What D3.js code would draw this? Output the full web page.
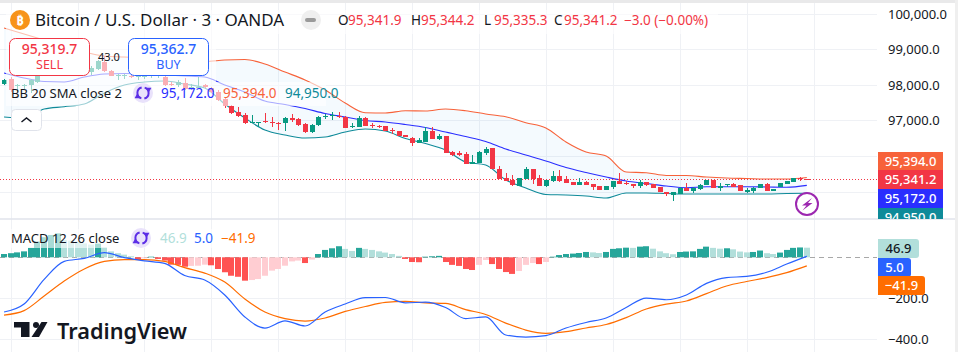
<!DOCTYPE html>
<html>
<head>
<meta charset="utf-8">
<script src="https://cdn.jsdelivr.net/npm/d3@7"></script>
<style>
  html, body { margin: 0; padding: 0; background: #fff; overflow: hidden; }
  svg { display: block; font-family: "Noto Sans", sans-serif; }
  .axis path { display: none; }
  .axis text { fill: #131722; font-size: 13px; font-family: "Noto Sans", sans-serif; }
</style>
</head>
<body>
<div id="chart"></div>
<script>
// BTC/USD 3m candles, first bar sits one slot left of the first time grid line
var opens = [
  98029, 98170, 97972, 97972, 98001, 98085, 98367, 98536, 98423, 98479,
  98648, 98592, 98705, 98367, 98451, 98648, 98395, 98254, 98254, 98254,
  98226, 98226, 98254, 98254, 98226, 98029, 98001, 98057, 97916, 97916,
  98001, 97916, 97803, 97606, 97409, 97240, 97155, 96930, 96930, 96986,
  96958, 96930, 96930, 97071, 97043, 96902, 96677, 96874, 97099, 97127,
  97127, 97099, 96817, 96817, 97071, 96874, 96846, 96846, 96733, 96705,
  96592, 96508, 96367, 96395, 96705, 96479, 96564, 96113, 96085, 96057,
  95775, 95803, 96085, 96226, 95634, 95381, 95324, 95155, 95353, 95634,
  95381, 95155, 95296, 95437, 95353, 95268, 95184, 95268, 95212, 95155,
  95043, 95127, 95296, 95240, 95212, 95155, 95268, 95212, 95127, 94986,
  94902, 94930, 95099, 95015, 95071, 95184, 95324, 95099, 95184, 95212,
  95184, 94986, 95015, 95099, 95212, 95015, 95127, 95212, 95268, 95381,
  95341.9
];
var highs = [
  98170, 98226, 98029, 98029, 98170, 98282, 98536, 98592, 98592, 98705,
  98705, 98761, 98761, 98536, 98705, 98817, 98423, 98310, 98310, 98339,
  98282, 98282, 98339, 98367, 98282, 98085, 98141, 98198, 98029, 98226,
  98029, 97944, 97860, 97634, 97437, 97381, 97212, 97155, 96958, 97212,
  97099, 96958, 97099, 97184, 97071, 96930, 96902, 97127, 97184, 97240,
  97240, 97127, 96930, 97127, 97099, 96930, 96874, 96846, 96789, 96705,
  96592, 96536, 96508, 96817, 96817, 96620, 96564, 96141, 96141, 96113,
  96029, 96141, 96254, 96226, 95719, 95522, 95465, 95381, 95691, 95634,
  95465, 95324, 95578, 95606, 95437, 95268, 95381, 95296, 95212, 95155,
  95155, 95296, 95522, 95296, 95212, 95324, 95268, 95212, 95127, 94986,
  94986, 95127, 95240, 95127, 95212, 95324, 95324, 95240, 95212, 95240,
  95184, 95099, 95127, 95212, 95240, 95071, 95240, 95296, 95381, 95410,
  95344.2
];
var lows = [
  98001, 97803, 97803, 97888, 97775, 98057, 98310, 98339, 98367, 98395,
  98451, 98479, 98423, 98282, 98423, 98367, 98254, 98141, 98170, 98198,
  98141, 98170, 98198, 98198, 97972, 97972, 97944, 97860, 97860, 97888,
  97916, 97775, 97550, 97353, 97184, 97099, 96902, 96930, 96817, 96930,
  96817, 96733, 96705, 96958, 96846, 96648, 96648, 96846, 97043, 97015,
  97071, 96789, 96789, 96817, 96846, 96789, 96789, 96705, 96620, 96564,
  96536, 96282, 96367, 96395, 96479, 96451, 96085, 96001, 96001, 95775,
  95775, 95803, 96029, 95634, 95353, 95296, 95155, 95155, 95353, 95212,
  95155, 95127, 95268, 95268, 95240, 95184, 95184, 95184, 95043, 95043,
  95043, 95071, 95212, 95184, 95099, 95099, 95155, 95099, 94986, 94874,
  94733, 94930, 95015, 94958, 95043, 95184, 95099, 95015, 95127, 95127,
  95015, 94958, 94958, 95099, 95015, 95015, 95127, 95212, 95268, 95296,
  95335.3
];
var closes = [
  98141, 97860, 98001, 98001, 98141, 98254, 98479, 98423, 98536, 98648,
  98536, 98705, 98536, 98479, 98677, 98395, 98254, 98282, 98282, 98226,
  98254, 98254, 98282, 98282, 98001, 98001, 98085, 97888, 97944, 97944,
  97944, 97803, 97578, 97409, 97212, 97127, 96930, 96958, 96958, 96958,
  96930, 96902, 97071, 97015, 96874, 96677, 96874, 97099, 97127, 97155,
  97099, 96789, 96846, 97071, 96846, 96846, 96817, 96705, 96705, 96564,
  96536, 96367, 96451, 96705, 96479, 96564, 96085, 96029, 96029, 95775,
  95831, 96113, 96198, 95634, 95353, 95296, 95184, 95381, 95634, 95353,
  95155, 95324, 95437, 95296, 95240, 95184, 95268, 95184, 95127, 95043,
  95155, 95296, 95212, 95212, 95155, 95268, 95184, 95099, 94986, 94930,
  94986, 95099, 95015, 95099, 95184, 95324, 95099, 95155, 95212, 95127,
  95015, 95043, 95099, 95212, 95015, 95071, 95240, 95296, 95381, 95340,
  95341.2
];

// Bollinger and MACD lines
var bandBars = d3.range(-1, 120, 3);
var bbUpper = [
  99606, 99437, 99268, 99099, 98930, 98817, 98789, 98761, 98733, 98704,
  98662, 98704, 98718, 98592, 98366, 98141, 97859, 97493, 97220, 97211,
  97276, 97268, 97324, 97276, 97183, 97107, 96938, 96789, 96394, 96113,
  96000, 95549, 95530, 95451, 95451, 95408, 95380, 95366, 95352, 95352,
  95394
];
var bbBasis = [
  98338, 98197, 98099, 98085, 98225, 98310, 98324, 98310, 98282, 98254,
  98225, 98000, 97803, 97549, 97451, 97338, 97197, 97099, 97000, 96958,
  96887, 96803, 96676, 96549, 96409, 96197, 96028, 95859, 95676, 95535,
  95408, 95296, 95225, 95155, 95107, 95135, 95135, 95135, 95127, 95118,
  95172
];
var bbLower = [
  97099, 97070, 97324, 97389, 97465, 97775, 98000, 98085, 98113, 98028,
  97916, 97465, 97070, 96732, 96592, 96507, 96535, 96676, 96761, 96704,
  96493, 96352, 96169, 95831, 95747, 95324, 95099, 94915, 94901, 94873,
  94817, 94958, 94958, 94944, 94930, 94930, 94930, 94930, 94930, 94944,
  94950
];
var macdLine = [
  -267, -228, -108, -20, -5, 23, -2, -17, -30, -89,
  -111, -184, -291, -345, -310, -335, -267, -228, -197, -196,
  -222, -219, -245, -299, -291, -379, -389, -382, -345, -318,
  -296, -245, -199, -207, -184, -127, -99, -93, -73, -33,
  5.0
];
var signalLine = [
  -282, -260, -189, -116, -57, -20, -11, -11, -20, -50,
  -77, -121, -203, -267, -299, -311, -296, -264, -240, -220,
  -215, -222, -225, -255, -279, -321, -355, -371, -363, -345,
  -328, -294, -252, -228, -213, -177, -140, -118, -99, -75,
  -41.9
];
var histogram = [
  16, 20, 24, 29, 46, 77, 98, 109, 117, 85,
  81, 77, 68, 62, 67, 49, 29, 20, 13, 5,
  -13, -5, 3, -8, -16, -36, -37, -46, -42, -41,
  -36, -39, -57, -73, -90, -95, -114, -111, -106, -90,
  -65, -57, -41, -20, -16, -28, -11, 16, 36, 44,
  54, 41, 31, 46, 41, 36, 29, 23, 16, 7,
  -8, -23, -24, 3, 5, 7, -23, -37, -42, -57,
  -62, -37, -13, -33, -57, -72, -81, -67, -37, -28,
  -33, -23, 3, 11, 16, 18, 21, 26, 24, 21,
  26, 41, 44, 47, 46, 52, 54, 42, 29, 20,
  15, 26, 28, 29, 41, 52, 46, 42, 44, 39,
  28, 24, 26, 33, 20, 16, 23, 36, 46, 48,
  46.9
];

var priceTicks = [100000, 99000, 98000, 97000, 96000, 95000];
var macdTicks = [-200, -400];
var timeGridBars = d3.range(0, 121, 10);

var width = 958, height = 352;
var paneRight = 877, axisRight = 955, paneBottom = 219;
var green = "#089981", red = "#f23645", gridColor = "#eff1f5";

var svg = d3.select("#chart").append("svg").attr("width", width).attr("height", height);

var x = d3.scaleLinear().domain([0, 120]).range([10.7, 813.5]);
var yPrice = d3.scaleLinear().domain([95000, 100000]).range([191.5, 14]);
var yMacd = d3.scaleLinear().domain([0, -400]).range([257.3, 339.3]);

function crisp(v) { return Math.round(v) + 0.5; }

// Page edges
svg.append("rect").attr("width", width).attr("height", 3).attr("fill", "#e9e9ea");
svg.append("rect").attr("x", axisRight).attr("width", width - axisRight).attr("height", height).attr("fill", "#efefef");

// Grid
svg.append("g").selectAll("line").data(timeGridBars).join("line")
  .attr("x1", function (d) { return crisp(x(d)); })
  .attr("x2", function (d) { return crisp(x(d)); })
  .attr("y1", 3).attr("y2", height)
  .attr("stroke", gridColor);
svg.append("g").selectAll("line").data(priceTicks).join("line")
  .attr("x1", 0).attr("x2", paneRight)
  .attr("y1", function (d) { return crisp(yPrice(d)); })
  .attr("y2", function (d) { return crisp(yPrice(d)); })
  .attr("stroke", gridColor);
svg.append("g").selectAll("line").data(macdTicks).join("line")
  .attr("x1", 0).attr("x2", paneRight)
  .attr("y1", function (d) { return crisp(yMacd(d)); })
  .attr("y2", function (d) { return crisp(yMacd(d)); })
  .attr("stroke", gridColor);
svg.append("line").attr("x1", 0).attr("x2", axisRight).attr("y1", paneBottom).attr("y2", paneBottom)
  .attr("stroke", "#e0e3eb").attr("stroke-width", 1.5);

// Bollinger fill and lines
var bandArea = d3.area()
  .x(function (d) { return x(d); })
  .y0(function (d, i) { return yPrice(bbLower[i]); })
  .y1(function (d, i) { return yPrice(bbUpper[i]); })
  .curve(d3.curveMonotoneX);
svg.append("path").datum(bandBars).attr("d", bandArea).attr("fill", "#2196f3").attr("fill-opacity", 0.05);

function bandLine(values, scale) {
  return d3.line()
    .x(function (d) { return x(d); })
    .y(function (d, i) { return scale(values[i]); })
    .curve(d3.curveMonotoneX);
}
[[bbUpper, "#f7623a"], [bbBasis, "#2a2eff"], [bbLower, "#0e8a99"]].forEach(function (s) {
  svg.append("path").datum(bandBars).attr("d", bandLine(s[0], yPrice))
    .attr("fill", "none").attr("stroke", s[1]).attr("stroke-width", 1.1);
});

// Last price line
svg.append("line").attr("x1", 0).attr("x2", paneRight)
  .attr("y1", crisp(yPrice(95341.2))).attr("y2", crisp(yPrice(95341.2)))
  .attr("stroke", red).attr("stroke-dasharray", "1 2");

// Candles
var candles = svg.append("g").selectAll("g").data(opens).join("g")
  .attr("fill", function (d, i) { return closes[i] >= opens[i] ? green : red; })
  .attr("stroke", function (d, i) { return closes[i] >= opens[i] ? green : red; });
candles.append("line")
  .attr("x1", function (d, i) { return crisp(x(i - 1)); })
  .attr("x2", function (d, i) { return crisp(x(i - 1)); })
  .attr("y1", function (d, i) { return Math.round(yPrice(highs[i])); })
  .attr("y2", function (d, i) { return Math.round(yPrice(lows[i])); });
candles.append("rect")
  .attr("stroke", "none")
  .attr("x", function (d, i) { return Math.round(x(i - 1)) - 2; })
  .attr("width", 5)
  .attr("y", function (d, i) { return Math.round(yPrice(Math.max(opens[i], closes[i]))); })
  .attr("height", function (d, i) {
    return Math.max(1, Math.round(yPrice(Math.min(opens[i], closes[i]))) - Math.round(yPrice(Math.max(opens[i], closes[i]))));
  });

// MACD histogram, colour follows sign and direction of the bar
svg.append("line").attr("x1", 0).attr("x2", paneRight).attr("y1", 257.5).attr("y2", 257.5)
  .attr("stroke", "#a8a8a8").attr("stroke-dasharray", "5 4");
svg.append("g").selectAll("rect").data(histogram).join("rect")
  .attr("x", function (d, i) { return Math.round(x(i - 1)) - 3; })
  .attr("width", 6)
  .attr("y", function (d) { return Math.min(yMacd(d), yMacd(0)); })
  .attr("height", function (d) { return Math.abs(yMacd(d) - yMacd(0)); })
  .attr("fill", function (d, i) {
    var rising = i === 0 || d > histogram[i - 1];
    if (d >= 0) return rising ? "#26a69a" : "#b2dfdb";
    return rising ? "#ffcdd2" : "#ff5252";
  });

[[signalLine, "#ff6d00"], [macdLine, "#2962ff"]].forEach(function (s) {
  svg.append("path").datum(bandBars).attr("d", bandLine(s[0], yMacd))
    .attr("fill", "none").attr("stroke", s[1]).attr("stroke-width", 1.2);
});

// Legend backdrops soften whatever runs underneath the text
[[6, 10, 712, 24], [6, 34, 210, 48], [6, 82, 320, 24], [6, 229, 258, 19]].forEach(function (r) {
  svg.append("rect").attr("x", r[0]).attr("y", r[1]).attr("width", r[2]).attr("height", r[3])
    .attr("fill", "#fff").attr("fill-opacity", 0.6);
});

function label(txt, px, py, size, color, anchor, weight) {
  return svg.append("text").attr("x", px).attr("y", py).attr("dy", "0.35em")
    .attr("font-size", size).attr("fill", color)
    .attr("text-anchor", anchor || "start").attr("font-weight", weight || 400).text(txt);
}

// Title row
svg.append("circle").attr("cx", 20).attr("cy", 20).attr("r", 10).attr("fill", "#f7931a");
label("₿", 20, 20, 13, "#fff", "middle", 700);
label("Bitcoin / U.S. Dollar · 3 · OANDA", 35, 20, 17, "#131722");
svg.append("circle").attr("cx", 311).attr("cy", 20).attr("r", 10).attr("fill", "#efefef");
svg.append("rect").attr("x", 305).attr("y", 18).attr("width", 11).attr("height", 4).attr("rx", 2).attr("fill", "#9a9a9a");
[["O", 338, "95,341.9", 348], ["H", 411, "95,344.2", 421], ["L", 484, "95,335.3", 494], ["C", 554, "95,341.2", 564]].forEach(function (o) {
  label(o[0], o[1], 20, 13.5, "#131722");
  label(o[2], o[3], 20, 13.5, red);
});
label("−3.0 (−0.00%)", 624, 20, 13.5, red);

// Sell and buy boxes
[[9.5, red, "95,319.7", "SELL"], [128.5, "#2962ff", "95,362.7", "BUY"]].forEach(function (b) {
  svg.append("rect").attr("x", b[0]).attr("y", 38.5).attr("width", 80).attr("height", 37).attr("rx", 6)
    .attr("fill", "#fff").attr("stroke", b[1]);
  label(b[2], b[0] + 40, 49, 14, b[1], "middle", 500);
  label(b[3], b[0] + 40, 64.5, 12.5, b[1], "middle");
});
label("43.0", 109, 57, 11, "#131722", "middle");

// Round purple sync button next to the indicator names
function syncIcon(cx, cy) {
  var g = svg.append("g").attr("transform", "translate(" + cx + "," + cy + ")");
  g.append("circle").attr("r", 10).attr("fill", "#e9e2fb");
  var arc = d3.arc().innerRadius(4.6).outerRadius(6.6);
  g.append("path").attr("d", arc({ startAngle: 0.3, endAngle: 2.9 })).attr("fill", "#5c2ee6");
  g.append("path").attr("d", arc({ startAngle: 3.44, endAngle: 6.04 })).attr("fill", "#5c2ee6");
  g.append("path").attr("d", d3.symbol().type(d3.symbolTriangle).size(14)()).attr("fill", "#5c2ee6")
    .attr("transform", "translate(5.6,-3.6) rotate(180)");
  g.append("path").attr("d", d3.symbol().type(d3.symbolTriangle).size(14)()).attr("fill", "#5c2ee6")
    .attr("transform", "translate(-5.6,3.6)");
}

label("BB 20 SMA close 2", 11, 93, 13, "#131722");
syncIcon(143, 93);
label("95,172.0", 161, 93, 13.5, "#2a2eff");
label("95,394.0", 223, 93, 13.5, "#f7623a");
label("94,950.0", 285, 93, 13.5, "#0e8a99");

svg.append("rect").attr("x", 11.5).attr("y", 109.5).attr("width", 30).attr("height", 21).attr("rx", 4)
  .attr("fill", "#fff").attr("stroke", "#e0e3eb");
svg.append("path").attr("d", d3.line()([[21.5, 122], [26.5, 118], [31.5, 122]]))
  .attr("fill", "none").attr("stroke", "#131722").attr("stroke-width", 1.5);

label("MACD 12 26 close", 11, 238, 13, "#131722");
syncIcon(141, 238);
label("46.9", 160, 238, 13.5, "#b2dfdb");
label("5.0", 194, 238, 13.5, "#2962ff");
label("−41.9", 221, 238, 13.5, "#ff6d00");

// Replay marker
svg.append("circle").attr("cx", 807).attr("cy", 204).attr("r", 11).attr("fill", "#fff")
  .attr("stroke", "#9c27b0").attr("stroke-width", 2);
svg.append("path").attr("d", "M812,198L802,205.5L806.5,205.5L802.5,210.5L812.5,203L808,203Z").attr("fill", "#9c27b0");

// Price scales
svg.append("g").attr("class", "axis").attr("transform", "translate(" + paneRight + ",0)")
  .call(d3.axisRight(yPrice).tickValues(priceTicks).tickFormat(d3.format(",.1f")).tickSize(0).tickPadding(11));
svg.append("g").attr("class", "axis").attr("transform", "translate(" + paneRight + ",0)")
  .call(d3.axisRight(yMacd).tickValues(macdTicks).tickFormat(d3.format(",.1f")).tickSize(0).tickPadding(11));

// Last value tags; the lowest band tag is cut off by the pane edge
var defs = svg.append("defs");
defs.append("clipPath").attr("id", "top-pane").append("rect").attr("width", width).attr("height", paneBottom);
var tags = svg.append("g").attr("clip-path", "url(#top-pane)");
[["95,394.0", 152, "#f7623a"], ["95,341.2", 170, red], ["95,172.0", 189, "#2a2eff"], ["94,950.0", 208, "#0e8a99"]].forEach(function (t) {
  tags.append("rect").attr("x", 878).attr("y", t[1]).attr("width", 65).attr("height", 19).attr("fill", t[2]);
  tags.append("text").attr("x", 910.5).attr("y", t[1] + 9.5).attr("dy", "0.35em").attr("text-anchor", "middle")
    .attr("font-size", 13).attr("font-weight", 500).attr("fill", "#fff").text(t[0]);
});
[["46.9", 239, 41, "#b2dfdb", "#131722"], ["5.0", 258, 33, "#2962ff", "#fff"], ["−41.9", 276, 47, "#ff6d00", "#fff"]].forEach(function (t) {
  svg.append("path")
    .attr("d", "M878," + t[1] + "h" + (t[2] - 3) + "q3,0 3,3v" + 13 + "q0,3 -3,3h-" + (t[2] - 3) + "z")
    .attr("fill", t[3]);
  label(t[0], 878 + t[2] / 2, t[1] + 9.5, 13, t[4], "middle", 500);
});

// TradingView mark
var logo = svg.append("g").attr("fill", "#131722");
logo.append("path").attr("d", "M14,322H29.5V337H21V327.5H14Z");
logo.append("circle").attr("cx", 36).attr("cy", 325).attr("r", 3);
logo.append("path").attr("d", "M41.5,322H47.5L39,337H31.5Z");
label("TradingView", 57, 331, 21.7, "#131722", "start", 600);
</script>
</body>
</html>
